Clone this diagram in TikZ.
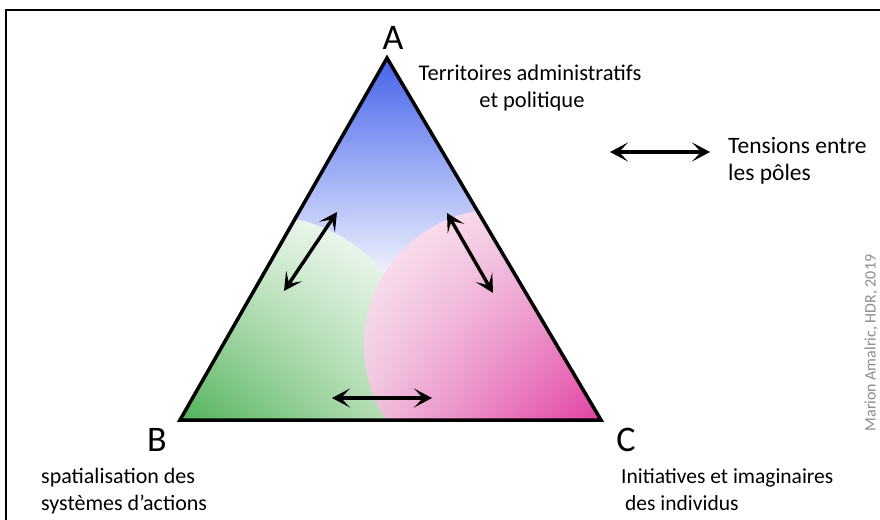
\documentclass[tikz,border=0pt]{standalone}
\usepackage{fontspec}
\setmainfont{Carlito}
\usetikzlibrary{arrows.meta,shadings}
\definecolor{blueA}{RGB}{70,100,235}
\definecolor{greenB}{RGB}{80,178,88}
\definecolor{greenL}{RGB}{222,240,222}
\definecolor{greenM}{RGB}{195,228,195}
\definecolor{pinkC}{RGB}{226,62,162}
\definecolor{pinkL}{RGB}{252,238,247}
\definecolor{pinkM}{RGB}{240,196,222}
\definecolor{creditgray}{RGB}{140,140,140}
\tikzset{
  tensionarrow/.style={line width=3.4pt,{Stealth[length=18pt,width=19pt,inset=9pt]}-{Stealth[length=18pt,width=19pt,inset=9pt]}},
  pole/.style={font=\fontsize{36}{40}\selectfont,inner sep=0pt},
  desc/.style={font=\fontsize{22}{27}\selectfont,inner sep=0pt},
}
\begin{document}
\begin{tikzpicture}[x=1pt,y=-1pt]
\useasboundingbox (0,0) rectangle (880,519);
\fill[white] (0,0) rectangle (880,519);
% frame
\draw[line width=2pt] (6,10) rectangle (900,540);
% triangle corners
\coordinate (pa) at (387,58);
\coordinate (pb) at (180,420);
\coordinate (pc) at (601,420);
% fills
\begin{scope}
  \clip (pa) -- (pb) -- (pc) -- cycle;
  \shade[top color=blueA, bottom color=white] (180,58) rectangle (601,295);
  \begin{scope}
    \clip (265,368) circle (152);
    \shade[lower left=greenB, lower right=greenM, upper left=greenL, upper right=white] (180,208) rectangle (420,422);
  \end{scope}
  \begin{scope}
    \clip (500,345) circle (136);
    \shade[lower right=pinkC, lower left=pinkM, upper right=pinkM, upper left=pinkL] (362,205) rectangle (603,422);
  \end{scope}
\end{scope}
\draw[line width=3.5pt,line join=miter] (pa) -- (pb) -- (pc) -- cycle;
% labels
\node[pole] (A) at (393,38) {A};
\node[pole] (B) at (157,440) {B};
\node[pole] (C) at (626,440) {C};
\node[desc,font=\fontsize{22.5}{27}\selectfont,anchor=base] (tA1) at (530,80) {Territoires administratifs};
\node[desc,font=\fontsize{22.5}{27}\selectfont,anchor=base] (tA2) at (532,107) {et politique};
\node[desc,anchor=base west] (tB1) at (41,483) {spatialisation des};
\node[desc,anchor=base west] (tB2) at (41,510) {systèmes d’actions};
\node[desc,font=\fontsize{21.5}{27}\selectfont,anchor=base west] (tC1) at (621,483) {Initiatives et imaginaires};
\node[desc,font=\fontsize{21.5}{27}\selectfont,anchor=base west] (tC2) at (625,510) {des individus};
\node[desc,font=\fontsize{23.5}{27}\selectfont,anchor=base west] (leg1) at (728,153) {Tensions entre};
\node[desc,font=\fontsize{23.5}{27}\selectfont,anchor=base west] (leg2) at (728,180) {les pôles};
% tension arrows
\coordinate (ab1) at (337,212);
\coordinate (ab2) at (284,291);
\coordinate (ac1) at (447,213);
\coordinate (ac2) at (493,293);
\coordinate (bc1) at (332,398);
\coordinate (bc2) at (432,398);
\coordinate (lg1) at (610,152);
\coordinate (lg2) at (710,152);
\draw[tensionarrow] (ab1) -- (ab2);
\draw[tensionarrow] (ac1) -- (ac2);
\draw[tensionarrow] (bc1) -- (bc2);
\draw[tensionarrow] (lg1) -- (lg2);
% credit
\node[font=\fontsize{16}{18}\selectfont,text=creditgray,rotate=90,inner sep=0pt] (cr) at (871,343) {Marion Amalric, HDR, 2019};
\end{tikzpicture}
\end{document}
